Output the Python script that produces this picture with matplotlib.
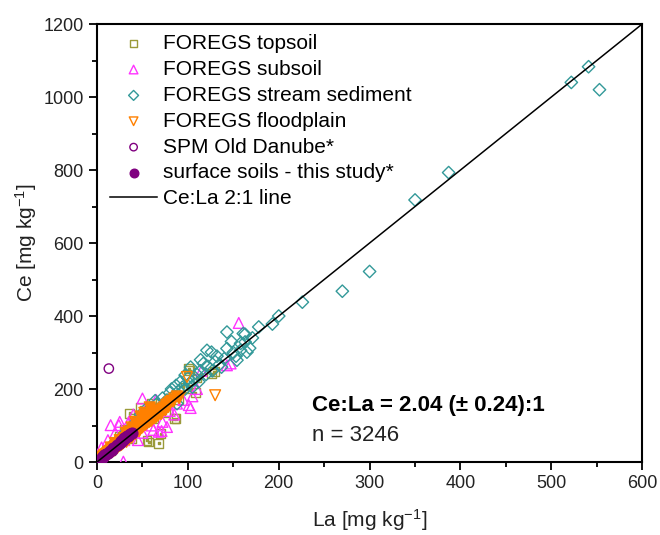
import matplotlib
matplotlib.use("Agg")
from matplotlib import pyplot as plt
from matplotlib.ticker import MultipleLocator

plt.rcParams['font.family'] = ['Liberation Sans', 'DejaVu Sans']
plt.rcParams['mathtext.fontset'] = 'custom'
plt.rcParams['mathtext.rm'] = 'Liberation Sans'
plt.rcParams['mathtext.it'] = 'Liberation Sans:italic'
plt.rcParams['mathtext.bf'] = 'Liberation Sans:bold'


# FOREGS topsoil (La, Ce)
topsoil_la = [101, 108, 126, 129, 85, 57, 68, 70, 36, 60, 30, 40, 75, 90, 95, 85, 50, 45,
              55, 65, 70, 80, 20, 25, 15, 10, 5, 100, 110, 62, 48, 38, 102, 55, 87]
topsoil_ce = [256, 190, 242, 247, 119, 55, 51, 78, 133, 160, 90, 120, 135, 170, 205, 180, 112, 95,
              125, 140, 150, 165, 45, 70, 30, 22, 10, 200, 230, 118, 150, 65, 250, 60, 119]

# FOREGS subsoil
subsoil_la = [156, 143, 147, 50, 15, 24, 77, 101, 103, 68, 71, 29, 20, 12, 35, 45, 60, 80,
              88, 95, 110, 72, 55, 65, 40, 30, 8, 18, 50, 62, 5, 25, 85, 105, 115]
subsoil_ce = [381, 265, 270, 174, 101, 101, 96, 156, 148, 83, 85, 1, 80, 60, 110, 60, 100, 140,
              160, 170, 200, 110, 150, 170, 130, 60, 30, 50, 80, 88, 40, 110, 130, 180, 250]

# FOREGS stream sediment
stream_la = [522, 541, 553, 387, 350, 300, 270, 226, 200, 193,
             178, 143, 161, 163, 168, 121, 126, 143, 158, 165, 154, 140, 117, 103, 97, 132,
             148, 114, 110, 122, 130, 137, 153, 107, 102, 94, 90, 87, 84, 80, 77, 74, 72, 70,
             66, 63, 61, 59, 56, 53, 51, 49, 46, 43, 41, 39, 36, 33, 31, 29, 26, 23, 21, 18,
             15, 12, 10, 8, 5, 3, 163, 171, 114, 100, 92, 82, 64, 54, 48, 88, 97, 105, 112,
             120, 127, 135, 158, 150]
stream_ce = [1040, 1083, 1020, 793, 718, 522, 468, 438, 400, 378,
             370, 356, 352, 329, 312, 306, 301, 311, 306, 301, 279, 283, 270, 260, 238, 290,
             330, 250, 240, 262, 275, 260, 290, 225, 215, 205, 195, 210, 180, 190, 170, 160, 175, 150,
             160, 140, 150, 130, 140, 120, 128, 110, 115, 100, 105, 90, 92, 78, 80, 65, 66, 52, 55, 40,
             42, 28, 30, 18, 14, 6, 350, 340, 280, 230, 220, 200, 168, 145, 130, 160, 200, 205, 220,
             240, 250, 268, 325, 300]

# FOREGS floodplain
flood_la = [2, 3, 4, 5, 5, 6, 7, 8, 8, 9, 10, 10, 11, 12, 12, 13, 14, 14, 15, 16, 16, 17, 18, 18,
            19, 20, 20, 21, 22, 22, 23, 24, 24, 25, 26, 26, 27, 28, 28, 29, 30, 30, 31, 32, 32,
            33, 34, 35, 35, 36, 37, 38, 38, 39, 40, 40, 41, 42, 42, 43, 44, 45, 46, 46, 47, 48,
            49, 50, 50, 51, 52, 53, 54, 55, 56, 57, 58, 59, 60, 61, 62, 63, 64, 65, 66, 67, 68,
            70, 70, 72, 74, 75, 76, 78, 78, 80, 82, 84, 85, 88, 90, 42, 48, 52, 58, 38, 32, 60,
            55, 45, 35, 25, 20, 15, 99, 130]
flood_ce = [5, 4, 10, 8, 13, 12, 16, 14, 20, 17, 22, 16, 24, 20, 28, 25, 30, 24, 32, 28, 36, 33, 38, 30,
            40, 36, 44, 41, 46, 38, 48, 44, 52, 50, 46, 56, 53, 58, 50, 62, 57, 66, 61, 64, 56,
            70, 66, 72, 62, 76, 71, 78, 68, 82, 76, 86, 80, 88, 78, 84, 92, 87, 94, 84, 98, 92,
            100, 95, 106, 100, 108, 102, 112, 106, 114, 110, 118, 113, 122, 117, 126, 120, 130, 124, 134, 128, 138,
            142, 132, 146, 150, 142, 156, 160, 150, 164, 168, 166, 174, 180, 176, 110, 125, 135, 150, 95, 80, 140,
            128, 104, 84, 60, 52, 40, 233, 183]

# SPM Old Danube
spm_la = [13, 3, 4, 6, 9]
spm_ce = [256, 5, 8, 14, 20]

# surface soils - this study
soil_la = [2, 4, 5, 7, 8, 10, 12, 14, 16, 18, 22, 25, 28, 30, 32, 34, 36, 38, 26, 30, 33]
soil_ce = [4, 9, 12, 15, 18, 21, 26, 30, 33, 38, 46, 52, 58, 62, 68, 72, 76, 80, 58, 66, 70]

# 2:1 reference line
ratio_la = [0, 600]
ratio_ce = [0, 1200]

c_top = '#9A9A3A'
c_sub = '#FF33FF'
c_str = '#339999'
c_fld = '#FF8000'
c_pur = '#800080'

fig = plt.figure(figsize=(6.6, 5.35), dpi=100)
ax = fig.add_axes([0.147, 0.1364, 0.826, 0.8187])

ax.scatter(topsoil_la, topsoil_ce, s=40, marker='s', facecolors='none', edgecolors=c_top,
           linewidths=1.0, label='FOREGS topsoil', zorder=2)
ax.scatter(topsoil_la, topsoil_ce, s=1, marker='s', color=c_top, zorder=2)
ax.scatter(subsoil_la, subsoil_ce, s=60, marker='^', facecolors='none', edgecolors=c_sub,
           linewidths=1.0, label='FOREGS subsoil', zorder=3)
ax.scatter(stream_la, stream_ce, s=40, marker='D', facecolors='none', edgecolors=c_str,
           linewidths=1.0, label='FOREGS stream sediment', zorder=3)
ax.scatter(flood_la, flood_ce, s=60, marker='v', facecolors='none', edgecolors=c_fld,
           linewidths=1.0, label='FOREGS floodplain', zorder=4)
# dense part of the floodplain cloud looks solid
ax.scatter(flood_la[:-2], flood_ce[:-2], s=45, marker='v', color=c_fld, zorder=4)
ax.scatter(spm_la, spm_ce, s=45, marker='o', facecolors='none', edgecolors=c_pur,
           linewidths=1.0, label='SPM Old Danube*', zorder=5)
ax.scatter(soil_la, soil_ce, s=60, marker='o', color=c_pur,
           label='surface soils - this study*', zorder=6)
ax.plot(ratio_la, ratio_ce, color='black', lw=1.1, label='Ce:La 2:1 line', zorder=7)

ax.set_xlim(0, 600)
ax.set_ylim(0, 1200)
ax.xaxis.set_major_locator(MultipleLocator(100))
ax.xaxis.set_minor_locator(MultipleLocator(50))
ax.yaxis.set_major_locator(MultipleLocator(200))
ax.yaxis.set_minor_locator(MultipleLocator(100))
ax.tick_params(which='major', direction='out', length=6, width=1.3, labelsize=13,
               labelcolor='#222222')
ax.tick_params(which='minor', direction='out', length=3.5, width=1.3)
for sp in ax.spines.values():
    sp.set_linewidth(1.5)

ax.set_xlabel('La [mg kg$^{-1}$]', fontsize=15, color='#222222', labelpad=11)
ax.set_ylabel('Ce [mg kg$^{-1}$]', fontsize=15, color='#222222', labelpad=3)

ax.text(0.394, 0.1285, 'Ce:La = 2.04 (\u00b1 0.24):1', transform=ax.transAxes,
        fontsize=16, fontweight='bold', va='center', ha='left')
ax.text(0.394, 0.0616, 'n = 3246', transform=ax.transAxes,
        fontsize=16, va='center', ha='left', color='#222222')

leg = ax.legend(loc='upper left', bbox_to_anchor=(0.0086, 0.996), frameon=False, fontsize=15,
                handlelength=2.26, handletextpad=0.29, labelspacing=0.33, borderaxespad=0,
                markerscale=0.8)

fig.savefig('out.png', dpi=100)
